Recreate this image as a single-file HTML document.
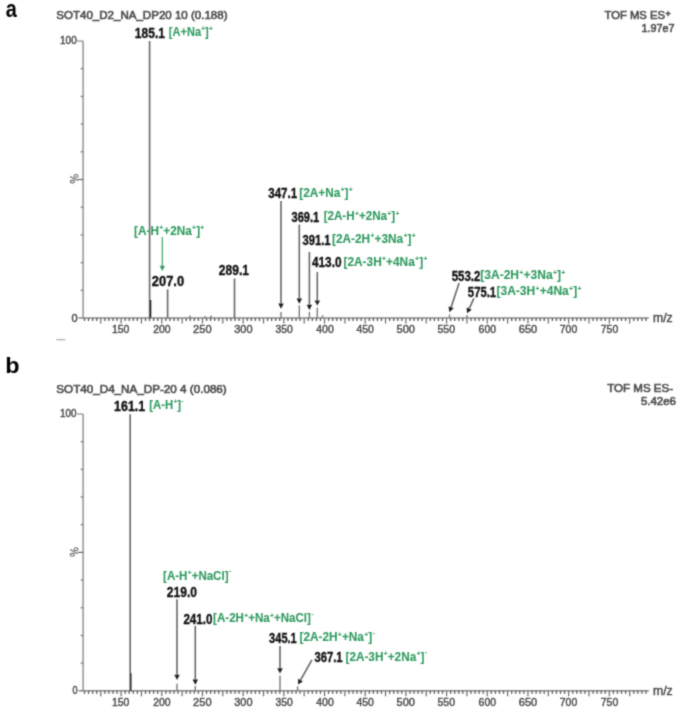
<!DOCTYPE html>
<html><head><meta charset="utf-8"><style>
html,body{margin:0;padding:0;background:#fff;width:685px;height:712px;overflow:hidden}
svg{display:block;-webkit-font-smoothing:antialiased;font-family:"Liberation Sans",sans-serif}
</style></head><body>
<svg width="685" height="712" viewBox="0 0 685 712">
<defs><filter id="bf" x="0" y="0" width="685" height="712" filterUnits="userSpaceOnUse"><feConvolveMatrix order="3" kernelMatrix="0.07 0.26 0.07 0.26 1 0.26 0.07 0.26 0.07" edgeMode="none"/></filter></defs>
<rect width="685" height="712" fill="#fff"/>
<g id="all" filter="url(#bf)">
<line x1="83.10" y1="41.00" x2="83.10" y2="318.00" stroke="#8a8a8a" stroke-width="1.40"/>
<line x1="77.10" y1="41.00" x2="83.10" y2="41.00" stroke="#777" stroke-width="1.00"/>
<line x1="78.60" y1="318.00" x2="83.10" y2="318.00" stroke="#666" stroke-width="1.20"/>
<line x1="80.60" y1="290.30" x2="83.10" y2="290.30" stroke="#777" stroke-width="1.20"/>
<line x1="80.60" y1="262.60" x2="83.10" y2="262.60" stroke="#777" stroke-width="1.20"/>
<line x1="80.60" y1="234.90" x2="83.10" y2="234.90" stroke="#777" stroke-width="1.20"/>
<line x1="80.60" y1="207.20" x2="83.10" y2="207.20" stroke="#777" stroke-width="1.20"/>
<line x1="77.60" y1="179.50" x2="83.10" y2="179.50" stroke="#666" stroke-width="1.20"/>
<line x1="80.60" y1="151.80" x2="83.10" y2="151.80" stroke="#777" stroke-width="1.20"/>
<line x1="80.60" y1="124.10" x2="83.10" y2="124.10" stroke="#777" stroke-width="1.20"/>
<line x1="80.60" y1="96.40" x2="83.10" y2="96.40" stroke="#777" stroke-width="1.20"/>
<line x1="80.60" y1="68.70" x2="83.10" y2="68.70" stroke="#777" stroke-width="1.20"/>
<line x1="83.10" y1="318.00" x2="648.90" y2="318.00" stroke="#8a8a8a" stroke-width="1.40"/>
<line x1="84.48" y1="318.00" x2="84.48" y2="321.00" stroke="#5a5a5a" stroke-width="1.30"/>
<line x1="88.55" y1="318.00" x2="88.55" y2="321.00" stroke="#5a5a5a" stroke-width="1.30"/>
<line x1="92.62" y1="318.00" x2="92.62" y2="321.00" stroke="#5a5a5a" stroke-width="1.30"/>
<line x1="96.69" y1="318.00" x2="96.69" y2="321.00" stroke="#5a5a5a" stroke-width="1.30"/>
<line x1="100.76" y1="318.00" x2="100.76" y2="323.50" stroke="#6a6a6a" stroke-width="1.20"/>
<line x1="104.83" y1="318.00" x2="104.83" y2="321.00" stroke="#5a5a5a" stroke-width="1.30"/>
<line x1="108.89" y1="318.00" x2="108.89" y2="321.00" stroke="#5a5a5a" stroke-width="1.30"/>
<line x1="112.96" y1="318.00" x2="112.96" y2="321.00" stroke="#5a5a5a" stroke-width="1.30"/>
<line x1="117.03" y1="318.00" x2="117.03" y2="321.00" stroke="#5a5a5a" stroke-width="1.30"/>
<line x1="121.10" y1="318.00" x2="121.10" y2="323.50" stroke="#6a6a6a" stroke-width="1.20"/>
<line x1="125.17" y1="318.00" x2="125.17" y2="321.00" stroke="#5a5a5a" stroke-width="1.30"/>
<line x1="129.24" y1="318.00" x2="129.24" y2="321.00" stroke="#5a5a5a" stroke-width="1.30"/>
<line x1="133.31" y1="318.00" x2="133.31" y2="321.00" stroke="#5a5a5a" stroke-width="1.30"/>
<line x1="137.37" y1="318.00" x2="137.37" y2="321.00" stroke="#5a5a5a" stroke-width="1.30"/>
<line x1="141.44" y1="318.00" x2="141.44" y2="323.50" stroke="#6a6a6a" stroke-width="1.20"/>
<line x1="145.51" y1="318.00" x2="145.51" y2="321.00" stroke="#5a5a5a" stroke-width="1.30"/>
<line x1="149.58" y1="318.00" x2="149.58" y2="321.00" stroke="#5a5a5a" stroke-width="1.30"/>
<line x1="153.65" y1="318.00" x2="153.65" y2="321.00" stroke="#5a5a5a" stroke-width="1.30"/>
<line x1="157.72" y1="318.00" x2="157.72" y2="321.00" stroke="#5a5a5a" stroke-width="1.30"/>
<line x1="161.78" y1="318.00" x2="161.78" y2="323.50" stroke="#6a6a6a" stroke-width="1.20"/>
<line x1="165.85" y1="318.00" x2="165.85" y2="321.00" stroke="#5a5a5a" stroke-width="1.30"/>
<line x1="169.92" y1="318.00" x2="169.92" y2="321.00" stroke="#5a5a5a" stroke-width="1.30"/>
<line x1="173.99" y1="318.00" x2="173.99" y2="321.00" stroke="#5a5a5a" stroke-width="1.30"/>
<line x1="178.06" y1="318.00" x2="178.06" y2="321.00" stroke="#5a5a5a" stroke-width="1.30"/>
<line x1="182.13" y1="318.00" x2="182.13" y2="323.50" stroke="#6a6a6a" stroke-width="1.20"/>
<line x1="186.20" y1="318.00" x2="186.20" y2="321.00" stroke="#5a5a5a" stroke-width="1.30"/>
<line x1="190.26" y1="318.00" x2="190.26" y2="321.00" stroke="#5a5a5a" stroke-width="1.30"/>
<line x1="194.33" y1="318.00" x2="194.33" y2="321.00" stroke="#5a5a5a" stroke-width="1.30"/>
<line x1="198.40" y1="318.00" x2="198.40" y2="321.00" stroke="#5a5a5a" stroke-width="1.30"/>
<line x1="202.47" y1="318.00" x2="202.47" y2="323.50" stroke="#6a6a6a" stroke-width="1.20"/>
<line x1="206.54" y1="318.00" x2="206.54" y2="321.00" stroke="#5a5a5a" stroke-width="1.30"/>
<line x1="210.61" y1="318.00" x2="210.61" y2="321.00" stroke="#5a5a5a" stroke-width="1.30"/>
<line x1="214.68" y1="318.00" x2="214.68" y2="321.00" stroke="#5a5a5a" stroke-width="1.30"/>
<line x1="218.74" y1="318.00" x2="218.74" y2="321.00" stroke="#5a5a5a" stroke-width="1.30"/>
<line x1="222.81" y1="318.00" x2="222.81" y2="323.50" stroke="#6a6a6a" stroke-width="1.20"/>
<line x1="226.88" y1="318.00" x2="226.88" y2="321.00" stroke="#5a5a5a" stroke-width="1.30"/>
<line x1="230.95" y1="318.00" x2="230.95" y2="321.00" stroke="#5a5a5a" stroke-width="1.30"/>
<line x1="235.02" y1="318.00" x2="235.02" y2="321.00" stroke="#5a5a5a" stroke-width="1.30"/>
<line x1="239.09" y1="318.00" x2="239.09" y2="321.00" stroke="#5a5a5a" stroke-width="1.30"/>
<line x1="243.15" y1="318.00" x2="243.15" y2="323.50" stroke="#6a6a6a" stroke-width="1.20"/>
<line x1="247.22" y1="318.00" x2="247.22" y2="321.00" stroke="#5a5a5a" stroke-width="1.30"/>
<line x1="251.29" y1="318.00" x2="251.29" y2="321.00" stroke="#5a5a5a" stroke-width="1.30"/>
<line x1="255.36" y1="318.00" x2="255.36" y2="321.00" stroke="#5a5a5a" stroke-width="1.30"/>
<line x1="259.43" y1="318.00" x2="259.43" y2="321.00" stroke="#5a5a5a" stroke-width="1.30"/>
<line x1="263.50" y1="318.00" x2="263.50" y2="323.50" stroke="#6a6a6a" stroke-width="1.20"/>
<line x1="267.57" y1="318.00" x2="267.57" y2="321.00" stroke="#5a5a5a" stroke-width="1.30"/>
<line x1="271.63" y1="318.00" x2="271.63" y2="321.00" stroke="#5a5a5a" stroke-width="1.30"/>
<line x1="275.70" y1="318.00" x2="275.70" y2="321.00" stroke="#5a5a5a" stroke-width="1.30"/>
<line x1="279.77" y1="318.00" x2="279.77" y2="321.00" stroke="#5a5a5a" stroke-width="1.30"/>
<line x1="283.84" y1="318.00" x2="283.84" y2="323.50" stroke="#6a6a6a" stroke-width="1.20"/>
<line x1="287.91" y1="318.00" x2="287.91" y2="321.00" stroke="#5a5a5a" stroke-width="1.30"/>
<line x1="291.98" y1="318.00" x2="291.98" y2="321.00" stroke="#5a5a5a" stroke-width="1.30"/>
<line x1="296.05" y1="318.00" x2="296.05" y2="321.00" stroke="#5a5a5a" stroke-width="1.30"/>
<line x1="300.11" y1="318.00" x2="300.11" y2="321.00" stroke="#5a5a5a" stroke-width="1.30"/>
<line x1="304.18" y1="318.00" x2="304.18" y2="323.50" stroke="#6a6a6a" stroke-width="1.20"/>
<line x1="308.25" y1="318.00" x2="308.25" y2="321.00" stroke="#5a5a5a" stroke-width="1.30"/>
<line x1="312.32" y1="318.00" x2="312.32" y2="321.00" stroke="#5a5a5a" stroke-width="1.30"/>
<line x1="316.39" y1="318.00" x2="316.39" y2="321.00" stroke="#5a5a5a" stroke-width="1.30"/>
<line x1="320.46" y1="318.00" x2="320.46" y2="321.00" stroke="#5a5a5a" stroke-width="1.30"/>
<line x1="324.52" y1="318.00" x2="324.52" y2="323.50" stroke="#6a6a6a" stroke-width="1.20"/>
<line x1="328.59" y1="318.00" x2="328.59" y2="321.00" stroke="#5a5a5a" stroke-width="1.30"/>
<line x1="332.66" y1="318.00" x2="332.66" y2="321.00" stroke="#5a5a5a" stroke-width="1.30"/>
<line x1="336.73" y1="318.00" x2="336.73" y2="321.00" stroke="#5a5a5a" stroke-width="1.30"/>
<line x1="340.80" y1="318.00" x2="340.80" y2="321.00" stroke="#5a5a5a" stroke-width="1.30"/>
<line x1="344.87" y1="318.00" x2="344.87" y2="323.50" stroke="#6a6a6a" stroke-width="1.20"/>
<line x1="348.94" y1="318.00" x2="348.94" y2="321.00" stroke="#5a5a5a" stroke-width="1.30"/>
<line x1="353.00" y1="318.00" x2="353.00" y2="321.00" stroke="#5a5a5a" stroke-width="1.30"/>
<line x1="357.07" y1="318.00" x2="357.07" y2="321.00" stroke="#5a5a5a" stroke-width="1.30"/>
<line x1="361.14" y1="318.00" x2="361.14" y2="321.00" stroke="#5a5a5a" stroke-width="1.30"/>
<line x1="365.21" y1="318.00" x2="365.21" y2="323.50" stroke="#6a6a6a" stroke-width="1.20"/>
<line x1="369.28" y1="318.00" x2="369.28" y2="321.00" stroke="#5a5a5a" stroke-width="1.30"/>
<line x1="373.35" y1="318.00" x2="373.35" y2="321.00" stroke="#5a5a5a" stroke-width="1.30"/>
<line x1="377.42" y1="318.00" x2="377.42" y2="321.00" stroke="#5a5a5a" stroke-width="1.30"/>
<line x1="381.48" y1="318.00" x2="381.48" y2="321.00" stroke="#5a5a5a" stroke-width="1.30"/>
<line x1="385.55" y1="318.00" x2="385.55" y2="323.50" stroke="#6a6a6a" stroke-width="1.20"/>
<line x1="389.62" y1="318.00" x2="389.62" y2="321.00" stroke="#5a5a5a" stroke-width="1.30"/>
<line x1="393.69" y1="318.00" x2="393.69" y2="321.00" stroke="#5a5a5a" stroke-width="1.30"/>
<line x1="397.76" y1="318.00" x2="397.76" y2="321.00" stroke="#5a5a5a" stroke-width="1.30"/>
<line x1="401.83" y1="318.00" x2="401.83" y2="321.00" stroke="#5a5a5a" stroke-width="1.30"/>
<line x1="405.89" y1="318.00" x2="405.89" y2="323.50" stroke="#6a6a6a" stroke-width="1.20"/>
<line x1="409.96" y1="318.00" x2="409.96" y2="321.00" stroke="#5a5a5a" stroke-width="1.30"/>
<line x1="414.03" y1="318.00" x2="414.03" y2="321.00" stroke="#5a5a5a" stroke-width="1.30"/>
<line x1="418.10" y1="318.00" x2="418.10" y2="321.00" stroke="#5a5a5a" stroke-width="1.30"/>
<line x1="422.17" y1="318.00" x2="422.17" y2="321.00" stroke="#5a5a5a" stroke-width="1.30"/>
<line x1="426.24" y1="318.00" x2="426.24" y2="323.50" stroke="#6a6a6a" stroke-width="1.20"/>
<line x1="430.31" y1="318.00" x2="430.31" y2="321.00" stroke="#5a5a5a" stroke-width="1.30"/>
<line x1="434.37" y1="318.00" x2="434.37" y2="321.00" stroke="#5a5a5a" stroke-width="1.30"/>
<line x1="438.44" y1="318.00" x2="438.44" y2="321.00" stroke="#5a5a5a" stroke-width="1.30"/>
<line x1="442.51" y1="318.00" x2="442.51" y2="321.00" stroke="#5a5a5a" stroke-width="1.30"/>
<line x1="446.58" y1="318.00" x2="446.58" y2="323.50" stroke="#6a6a6a" stroke-width="1.20"/>
<line x1="450.65" y1="318.00" x2="450.65" y2="321.00" stroke="#5a5a5a" stroke-width="1.30"/>
<line x1="454.72" y1="318.00" x2="454.72" y2="321.00" stroke="#5a5a5a" stroke-width="1.30"/>
<line x1="458.79" y1="318.00" x2="458.79" y2="321.00" stroke="#5a5a5a" stroke-width="1.30"/>
<line x1="462.85" y1="318.00" x2="462.85" y2="321.00" stroke="#5a5a5a" stroke-width="1.30"/>
<line x1="466.92" y1="318.00" x2="466.92" y2="323.50" stroke="#6a6a6a" stroke-width="1.20"/>
<line x1="470.99" y1="318.00" x2="470.99" y2="321.00" stroke="#5a5a5a" stroke-width="1.30"/>
<line x1="475.06" y1="318.00" x2="475.06" y2="321.00" stroke="#5a5a5a" stroke-width="1.30"/>
<line x1="479.13" y1="318.00" x2="479.13" y2="321.00" stroke="#5a5a5a" stroke-width="1.30"/>
<line x1="483.20" y1="318.00" x2="483.20" y2="321.00" stroke="#5a5a5a" stroke-width="1.30"/>
<line x1="487.26" y1="318.00" x2="487.26" y2="323.50" stroke="#6a6a6a" stroke-width="1.20"/>
<line x1="491.33" y1="318.00" x2="491.33" y2="321.00" stroke="#5a5a5a" stroke-width="1.30"/>
<line x1="495.40" y1="318.00" x2="495.40" y2="321.00" stroke="#5a5a5a" stroke-width="1.30"/>
<line x1="499.47" y1="318.00" x2="499.47" y2="321.00" stroke="#5a5a5a" stroke-width="1.30"/>
<line x1="503.54" y1="318.00" x2="503.54" y2="321.00" stroke="#5a5a5a" stroke-width="1.30"/>
<line x1="507.61" y1="318.00" x2="507.61" y2="323.50" stroke="#6a6a6a" stroke-width="1.20"/>
<line x1="511.68" y1="318.00" x2="511.68" y2="321.00" stroke="#5a5a5a" stroke-width="1.30"/>
<line x1="515.74" y1="318.00" x2="515.74" y2="321.00" stroke="#5a5a5a" stroke-width="1.30"/>
<line x1="519.81" y1="318.00" x2="519.81" y2="321.00" stroke="#5a5a5a" stroke-width="1.30"/>
<line x1="523.88" y1="318.00" x2="523.88" y2="321.00" stroke="#5a5a5a" stroke-width="1.30"/>
<line x1="527.95" y1="318.00" x2="527.95" y2="323.50" stroke="#6a6a6a" stroke-width="1.20"/>
<line x1="532.02" y1="318.00" x2="532.02" y2="321.00" stroke="#5a5a5a" stroke-width="1.30"/>
<line x1="536.09" y1="318.00" x2="536.09" y2="321.00" stroke="#5a5a5a" stroke-width="1.30"/>
<line x1="540.16" y1="318.00" x2="540.16" y2="321.00" stroke="#5a5a5a" stroke-width="1.30"/>
<line x1="544.22" y1="318.00" x2="544.22" y2="321.00" stroke="#5a5a5a" stroke-width="1.30"/>
<line x1="548.29" y1="318.00" x2="548.29" y2="323.50" stroke="#6a6a6a" stroke-width="1.20"/>
<line x1="552.36" y1="318.00" x2="552.36" y2="321.00" stroke="#5a5a5a" stroke-width="1.30"/>
<line x1="556.43" y1="318.00" x2="556.43" y2="321.00" stroke="#5a5a5a" stroke-width="1.30"/>
<line x1="560.50" y1="318.00" x2="560.50" y2="321.00" stroke="#5a5a5a" stroke-width="1.30"/>
<line x1="564.57" y1="318.00" x2="564.57" y2="321.00" stroke="#5a5a5a" stroke-width="1.30"/>
<line x1="568.63" y1="318.00" x2="568.63" y2="323.50" stroke="#6a6a6a" stroke-width="1.20"/>
<line x1="572.70" y1="318.00" x2="572.70" y2="321.00" stroke="#5a5a5a" stroke-width="1.30"/>
<line x1="576.77" y1="318.00" x2="576.77" y2="321.00" stroke="#5a5a5a" stroke-width="1.30"/>
<line x1="580.84" y1="318.00" x2="580.84" y2="321.00" stroke="#5a5a5a" stroke-width="1.30"/>
<line x1="584.91" y1="318.00" x2="584.91" y2="321.00" stroke="#5a5a5a" stroke-width="1.30"/>
<line x1="588.98" y1="318.00" x2="588.98" y2="323.50" stroke="#6a6a6a" stroke-width="1.20"/>
<line x1="593.05" y1="318.00" x2="593.05" y2="321.00" stroke="#5a5a5a" stroke-width="1.30"/>
<line x1="597.11" y1="318.00" x2="597.11" y2="321.00" stroke="#5a5a5a" stroke-width="1.30"/>
<line x1="601.18" y1="318.00" x2="601.18" y2="321.00" stroke="#5a5a5a" stroke-width="1.30"/>
<line x1="605.25" y1="318.00" x2="605.25" y2="321.00" stroke="#5a5a5a" stroke-width="1.30"/>
<line x1="609.32" y1="318.00" x2="609.32" y2="323.50" stroke="#6a6a6a" stroke-width="1.20"/>
<line x1="613.39" y1="318.00" x2="613.39" y2="321.00" stroke="#5a5a5a" stroke-width="1.30"/>
<line x1="617.46" y1="318.00" x2="617.46" y2="321.00" stroke="#5a5a5a" stroke-width="1.30"/>
<line x1="621.53" y1="318.00" x2="621.53" y2="321.00" stroke="#5a5a5a" stroke-width="1.30"/>
<line x1="625.59" y1="318.00" x2="625.59" y2="321.00" stroke="#5a5a5a" stroke-width="1.30"/>
<line x1="629.66" y1="318.00" x2="629.66" y2="323.50" stroke="#6a6a6a" stroke-width="1.20"/>
<line x1="633.73" y1="318.00" x2="633.73" y2="321.00" stroke="#5a5a5a" stroke-width="1.30"/>
<line x1="637.80" y1="318.00" x2="637.80" y2="321.00" stroke="#5a5a5a" stroke-width="1.30"/>
<line x1="641.87" y1="318.00" x2="641.87" y2="321.00" stroke="#5a5a5a" stroke-width="1.30"/>
<line x1="645.94" y1="318.00" x2="645.94" y2="321.00" stroke="#5a5a5a" stroke-width="1.30"/>
<line x1="56.20" y1="339.70" x2="65.40" y2="339.70" stroke="#aaa" stroke-width="1.20"/>
<line x1="83.10" y1="414.00" x2="83.10" y2="690.80" stroke="#8a8a8a" stroke-width="1.40"/>
<line x1="77.10" y1="414.00" x2="83.10" y2="414.00" stroke="#777" stroke-width="1.00"/>
<line x1="78.60" y1="690.80" x2="83.10" y2="690.80" stroke="#666" stroke-width="1.20"/>
<line x1="80.60" y1="663.12" x2="83.10" y2="663.12" stroke="#777" stroke-width="1.20"/>
<line x1="80.60" y1="635.44" x2="83.10" y2="635.44" stroke="#777" stroke-width="1.20"/>
<line x1="80.60" y1="607.76" x2="83.10" y2="607.76" stroke="#777" stroke-width="1.20"/>
<line x1="80.60" y1="580.08" x2="83.10" y2="580.08" stroke="#777" stroke-width="1.20"/>
<line x1="77.60" y1="552.40" x2="83.10" y2="552.40" stroke="#666" stroke-width="1.20"/>
<line x1="80.60" y1="524.72" x2="83.10" y2="524.72" stroke="#777" stroke-width="1.20"/>
<line x1="80.60" y1="497.04" x2="83.10" y2="497.04" stroke="#777" stroke-width="1.20"/>
<line x1="80.60" y1="469.36" x2="83.10" y2="469.36" stroke="#777" stroke-width="1.20"/>
<line x1="80.60" y1="441.68" x2="83.10" y2="441.68" stroke="#777" stroke-width="1.20"/>
<line x1="83.10" y1="690.80" x2="648.90" y2="690.80" stroke="#8a8a8a" stroke-width="1.40"/>
<line x1="84.48" y1="690.80" x2="84.48" y2="693.80" stroke="#5a5a5a" stroke-width="1.30"/>
<line x1="88.55" y1="690.80" x2="88.55" y2="693.80" stroke="#5a5a5a" stroke-width="1.30"/>
<line x1="92.62" y1="690.80" x2="92.62" y2="693.80" stroke="#5a5a5a" stroke-width="1.30"/>
<line x1="96.69" y1="690.80" x2="96.69" y2="693.80" stroke="#5a5a5a" stroke-width="1.30"/>
<line x1="100.76" y1="690.80" x2="100.76" y2="696.30" stroke="#6a6a6a" stroke-width="1.20"/>
<line x1="104.83" y1="690.80" x2="104.83" y2="693.80" stroke="#5a5a5a" stroke-width="1.30"/>
<line x1="108.89" y1="690.80" x2="108.89" y2="693.80" stroke="#5a5a5a" stroke-width="1.30"/>
<line x1="112.96" y1="690.80" x2="112.96" y2="693.80" stroke="#5a5a5a" stroke-width="1.30"/>
<line x1="117.03" y1="690.80" x2="117.03" y2="693.80" stroke="#5a5a5a" stroke-width="1.30"/>
<line x1="121.10" y1="690.80" x2="121.10" y2="696.30" stroke="#6a6a6a" stroke-width="1.20"/>
<line x1="125.17" y1="690.80" x2="125.17" y2="693.80" stroke="#5a5a5a" stroke-width="1.30"/>
<line x1="129.24" y1="690.80" x2="129.24" y2="693.80" stroke="#5a5a5a" stroke-width="1.30"/>
<line x1="133.31" y1="690.80" x2="133.31" y2="693.80" stroke="#5a5a5a" stroke-width="1.30"/>
<line x1="137.37" y1="690.80" x2="137.37" y2="693.80" stroke="#5a5a5a" stroke-width="1.30"/>
<line x1="141.44" y1="690.80" x2="141.44" y2="696.30" stroke="#6a6a6a" stroke-width="1.20"/>
<line x1="145.51" y1="690.80" x2="145.51" y2="693.80" stroke="#5a5a5a" stroke-width="1.30"/>
<line x1="149.58" y1="690.80" x2="149.58" y2="693.80" stroke="#5a5a5a" stroke-width="1.30"/>
<line x1="153.65" y1="690.80" x2="153.65" y2="693.80" stroke="#5a5a5a" stroke-width="1.30"/>
<line x1="157.72" y1="690.80" x2="157.72" y2="693.80" stroke="#5a5a5a" stroke-width="1.30"/>
<line x1="161.78" y1="690.80" x2="161.78" y2="696.30" stroke="#6a6a6a" stroke-width="1.20"/>
<line x1="165.85" y1="690.80" x2="165.85" y2="693.80" stroke="#5a5a5a" stroke-width="1.30"/>
<line x1="169.92" y1="690.80" x2="169.92" y2="693.80" stroke="#5a5a5a" stroke-width="1.30"/>
<line x1="173.99" y1="690.80" x2="173.99" y2="693.80" stroke="#5a5a5a" stroke-width="1.30"/>
<line x1="178.06" y1="690.80" x2="178.06" y2="693.80" stroke="#5a5a5a" stroke-width="1.30"/>
<line x1="182.13" y1="690.80" x2="182.13" y2="696.30" stroke="#6a6a6a" stroke-width="1.20"/>
<line x1="186.20" y1="690.80" x2="186.20" y2="693.80" stroke="#5a5a5a" stroke-width="1.30"/>
<line x1="190.26" y1="690.80" x2="190.26" y2="693.80" stroke="#5a5a5a" stroke-width="1.30"/>
<line x1="194.33" y1="690.80" x2="194.33" y2="693.80" stroke="#5a5a5a" stroke-width="1.30"/>
<line x1="198.40" y1="690.80" x2="198.40" y2="693.80" stroke="#5a5a5a" stroke-width="1.30"/>
<line x1="202.47" y1="690.80" x2="202.47" y2="696.30" stroke="#6a6a6a" stroke-width="1.20"/>
<line x1="206.54" y1="690.80" x2="206.54" y2="693.80" stroke="#5a5a5a" stroke-width="1.30"/>
<line x1="210.61" y1="690.80" x2="210.61" y2="693.80" stroke="#5a5a5a" stroke-width="1.30"/>
<line x1="214.68" y1="690.80" x2="214.68" y2="693.80" stroke="#5a5a5a" stroke-width="1.30"/>
<line x1="218.74" y1="690.80" x2="218.74" y2="693.80" stroke="#5a5a5a" stroke-width="1.30"/>
<line x1="222.81" y1="690.80" x2="222.81" y2="696.30" stroke="#6a6a6a" stroke-width="1.20"/>
<line x1="226.88" y1="690.80" x2="226.88" y2="693.80" stroke="#5a5a5a" stroke-width="1.30"/>
<line x1="230.95" y1="690.80" x2="230.95" y2="693.80" stroke="#5a5a5a" stroke-width="1.30"/>
<line x1="235.02" y1="690.80" x2="235.02" y2="693.80" stroke="#5a5a5a" stroke-width="1.30"/>
<line x1="239.09" y1="690.80" x2="239.09" y2="693.80" stroke="#5a5a5a" stroke-width="1.30"/>
<line x1="243.15" y1="690.80" x2="243.15" y2="696.30" stroke="#6a6a6a" stroke-width="1.20"/>
<line x1="247.22" y1="690.80" x2="247.22" y2="693.80" stroke="#5a5a5a" stroke-width="1.30"/>
<line x1="251.29" y1="690.80" x2="251.29" y2="693.80" stroke="#5a5a5a" stroke-width="1.30"/>
<line x1="255.36" y1="690.80" x2="255.36" y2="693.80" stroke="#5a5a5a" stroke-width="1.30"/>
<line x1="259.43" y1="690.80" x2="259.43" y2="693.80" stroke="#5a5a5a" stroke-width="1.30"/>
<line x1="263.50" y1="690.80" x2="263.50" y2="696.30" stroke="#6a6a6a" stroke-width="1.20"/>
<line x1="267.57" y1="690.80" x2="267.57" y2="693.80" stroke="#5a5a5a" stroke-width="1.30"/>
<line x1="271.63" y1="690.80" x2="271.63" y2="693.80" stroke="#5a5a5a" stroke-width="1.30"/>
<line x1="275.70" y1="690.80" x2="275.70" y2="693.80" stroke="#5a5a5a" stroke-width="1.30"/>
<line x1="279.77" y1="690.80" x2="279.77" y2="693.80" stroke="#5a5a5a" stroke-width="1.30"/>
<line x1="283.84" y1="690.80" x2="283.84" y2="696.30" stroke="#6a6a6a" stroke-width="1.20"/>
<line x1="287.91" y1="690.80" x2="287.91" y2="693.80" stroke="#5a5a5a" stroke-width="1.30"/>
<line x1="291.98" y1="690.80" x2="291.98" y2="693.80" stroke="#5a5a5a" stroke-width="1.30"/>
<line x1="296.05" y1="690.80" x2="296.05" y2="693.80" stroke="#5a5a5a" stroke-width="1.30"/>
<line x1="300.11" y1="690.80" x2="300.11" y2="693.80" stroke="#5a5a5a" stroke-width="1.30"/>
<line x1="304.18" y1="690.80" x2="304.18" y2="696.30" stroke="#6a6a6a" stroke-width="1.20"/>
<line x1="308.25" y1="690.80" x2="308.25" y2="693.80" stroke="#5a5a5a" stroke-width="1.30"/>
<line x1="312.32" y1="690.80" x2="312.32" y2="693.80" stroke="#5a5a5a" stroke-width="1.30"/>
<line x1="316.39" y1="690.80" x2="316.39" y2="693.80" stroke="#5a5a5a" stroke-width="1.30"/>
<line x1="320.46" y1="690.80" x2="320.46" y2="693.80" stroke="#5a5a5a" stroke-width="1.30"/>
<line x1="324.52" y1="690.80" x2="324.52" y2="696.30" stroke="#6a6a6a" stroke-width="1.20"/>
<line x1="328.59" y1="690.80" x2="328.59" y2="693.80" stroke="#5a5a5a" stroke-width="1.30"/>
<line x1="332.66" y1="690.80" x2="332.66" y2="693.80" stroke="#5a5a5a" stroke-width="1.30"/>
<line x1="336.73" y1="690.80" x2="336.73" y2="693.80" stroke="#5a5a5a" stroke-width="1.30"/>
<line x1="340.80" y1="690.80" x2="340.80" y2="693.80" stroke="#5a5a5a" stroke-width="1.30"/>
<line x1="344.87" y1="690.80" x2="344.87" y2="696.30" stroke="#6a6a6a" stroke-width="1.20"/>
<line x1="348.94" y1="690.80" x2="348.94" y2="693.80" stroke="#5a5a5a" stroke-width="1.30"/>
<line x1="353.00" y1="690.80" x2="353.00" y2="693.80" stroke="#5a5a5a" stroke-width="1.30"/>
<line x1="357.07" y1="690.80" x2="357.07" y2="693.80" stroke="#5a5a5a" stroke-width="1.30"/>
<line x1="361.14" y1="690.80" x2="361.14" y2="693.80" stroke="#5a5a5a" stroke-width="1.30"/>
<line x1="365.21" y1="690.80" x2="365.21" y2="696.30" stroke="#6a6a6a" stroke-width="1.20"/>
<line x1="369.28" y1="690.80" x2="369.28" y2="693.80" stroke="#5a5a5a" stroke-width="1.30"/>
<line x1="373.35" y1="690.80" x2="373.35" y2="693.80" stroke="#5a5a5a" stroke-width="1.30"/>
<line x1="377.42" y1="690.80" x2="377.42" y2="693.80" stroke="#5a5a5a" stroke-width="1.30"/>
<line x1="381.48" y1="690.80" x2="381.48" y2="693.80" stroke="#5a5a5a" stroke-width="1.30"/>
<line x1="385.55" y1="690.80" x2="385.55" y2="696.30" stroke="#6a6a6a" stroke-width="1.20"/>
<line x1="389.62" y1="690.80" x2="389.62" y2="693.80" stroke="#5a5a5a" stroke-width="1.30"/>
<line x1="393.69" y1="690.80" x2="393.69" y2="693.80" stroke="#5a5a5a" stroke-width="1.30"/>
<line x1="397.76" y1="690.80" x2="397.76" y2="693.80" stroke="#5a5a5a" stroke-width="1.30"/>
<line x1="401.83" y1="690.80" x2="401.83" y2="693.80" stroke="#5a5a5a" stroke-width="1.30"/>
<line x1="405.89" y1="690.80" x2="405.89" y2="696.30" stroke="#6a6a6a" stroke-width="1.20"/>
<line x1="409.96" y1="690.80" x2="409.96" y2="693.80" stroke="#5a5a5a" stroke-width="1.30"/>
<line x1="414.03" y1="690.80" x2="414.03" y2="693.80" stroke="#5a5a5a" stroke-width="1.30"/>
<line x1="418.10" y1="690.80" x2="418.10" y2="693.80" stroke="#5a5a5a" stroke-width="1.30"/>
<line x1="422.17" y1="690.80" x2="422.17" y2="693.80" stroke="#5a5a5a" stroke-width="1.30"/>
<line x1="426.24" y1="690.80" x2="426.24" y2="696.30" stroke="#6a6a6a" stroke-width="1.20"/>
<line x1="430.31" y1="690.80" x2="430.31" y2="693.80" stroke="#5a5a5a" stroke-width="1.30"/>
<line x1="434.37" y1="690.80" x2="434.37" y2="693.80" stroke="#5a5a5a" stroke-width="1.30"/>
<line x1="438.44" y1="690.80" x2="438.44" y2="693.80" stroke="#5a5a5a" stroke-width="1.30"/>
<line x1="442.51" y1="690.80" x2="442.51" y2="693.80" stroke="#5a5a5a" stroke-width="1.30"/>
<line x1="446.58" y1="690.80" x2="446.58" y2="696.30" stroke="#6a6a6a" stroke-width="1.20"/>
<line x1="450.65" y1="690.80" x2="450.65" y2="693.80" stroke="#5a5a5a" stroke-width="1.30"/>
<line x1="454.72" y1="690.80" x2="454.72" y2="693.80" stroke="#5a5a5a" stroke-width="1.30"/>
<line x1="458.79" y1="690.80" x2="458.79" y2="693.80" stroke="#5a5a5a" stroke-width="1.30"/>
<line x1="462.85" y1="690.80" x2="462.85" y2="693.80" stroke="#5a5a5a" stroke-width="1.30"/>
<line x1="466.92" y1="690.80" x2="466.92" y2="696.30" stroke="#6a6a6a" stroke-width="1.20"/>
<line x1="470.99" y1="690.80" x2="470.99" y2="693.80" stroke="#5a5a5a" stroke-width="1.30"/>
<line x1="475.06" y1="690.80" x2="475.06" y2="693.80" stroke="#5a5a5a" stroke-width="1.30"/>
<line x1="479.13" y1="690.80" x2="479.13" y2="693.80" stroke="#5a5a5a" stroke-width="1.30"/>
<line x1="483.20" y1="690.80" x2="483.20" y2="693.80" stroke="#5a5a5a" stroke-width="1.30"/>
<line x1="487.26" y1="690.80" x2="487.26" y2="696.30" stroke="#6a6a6a" stroke-width="1.20"/>
<line x1="491.33" y1="690.80" x2="491.33" y2="693.80" stroke="#5a5a5a" stroke-width="1.30"/>
<line x1="495.40" y1="690.80" x2="495.40" y2="693.80" stroke="#5a5a5a" stroke-width="1.30"/>
<line x1="499.47" y1="690.80" x2="499.47" y2="693.80" stroke="#5a5a5a" stroke-width="1.30"/>
<line x1="503.54" y1="690.80" x2="503.54" y2="693.80" stroke="#5a5a5a" stroke-width="1.30"/>
<line x1="507.61" y1="690.80" x2="507.61" y2="696.30" stroke="#6a6a6a" stroke-width="1.20"/>
<line x1="511.68" y1="690.80" x2="511.68" y2="693.80" stroke="#5a5a5a" stroke-width="1.30"/>
<line x1="515.74" y1="690.80" x2="515.74" y2="693.80" stroke="#5a5a5a" stroke-width="1.30"/>
<line x1="519.81" y1="690.80" x2="519.81" y2="693.80" stroke="#5a5a5a" stroke-width="1.30"/>
<line x1="523.88" y1="690.80" x2="523.88" y2="693.80" stroke="#5a5a5a" stroke-width="1.30"/>
<line x1="527.95" y1="690.80" x2="527.95" y2="696.30" stroke="#6a6a6a" stroke-width="1.20"/>
<line x1="532.02" y1="690.80" x2="532.02" y2="693.80" stroke="#5a5a5a" stroke-width="1.30"/>
<line x1="536.09" y1="690.80" x2="536.09" y2="693.80" stroke="#5a5a5a" stroke-width="1.30"/>
<line x1="540.16" y1="690.80" x2="540.16" y2="693.80" stroke="#5a5a5a" stroke-width="1.30"/>
<line x1="544.22" y1="690.80" x2="544.22" y2="693.80" stroke="#5a5a5a" stroke-width="1.30"/>
<line x1="548.29" y1="690.80" x2="548.29" y2="696.30" stroke="#6a6a6a" stroke-width="1.20"/>
<line x1="552.36" y1="690.80" x2="552.36" y2="693.80" stroke="#5a5a5a" stroke-width="1.30"/>
<line x1="556.43" y1="690.80" x2="556.43" y2="693.80" stroke="#5a5a5a" stroke-width="1.30"/>
<line x1="560.50" y1="690.80" x2="560.50" y2="693.80" stroke="#5a5a5a" stroke-width="1.30"/>
<line x1="564.57" y1="690.80" x2="564.57" y2="693.80" stroke="#5a5a5a" stroke-width="1.30"/>
<line x1="568.63" y1="690.80" x2="568.63" y2="696.30" stroke="#6a6a6a" stroke-width="1.20"/>
<line x1="572.70" y1="690.80" x2="572.70" y2="693.80" stroke="#5a5a5a" stroke-width="1.30"/>
<line x1="576.77" y1="690.80" x2="576.77" y2="693.80" stroke="#5a5a5a" stroke-width="1.30"/>
<line x1="580.84" y1="690.80" x2="580.84" y2="693.80" stroke="#5a5a5a" stroke-width="1.30"/>
<line x1="584.91" y1="690.80" x2="584.91" y2="693.80" stroke="#5a5a5a" stroke-width="1.30"/>
<line x1="588.98" y1="690.80" x2="588.98" y2="696.30" stroke="#6a6a6a" stroke-width="1.20"/>
<line x1="593.05" y1="690.80" x2="593.05" y2="693.80" stroke="#5a5a5a" stroke-width="1.30"/>
<line x1="597.11" y1="690.80" x2="597.11" y2="693.80" stroke="#5a5a5a" stroke-width="1.30"/>
<line x1="601.18" y1="690.80" x2="601.18" y2="693.80" stroke="#5a5a5a" stroke-width="1.30"/>
<line x1="605.25" y1="690.80" x2="605.25" y2="693.80" stroke="#5a5a5a" stroke-width="1.30"/>
<line x1="609.32" y1="690.80" x2="609.32" y2="696.30" stroke="#6a6a6a" stroke-width="1.20"/>
<line x1="613.39" y1="690.80" x2="613.39" y2="693.80" stroke="#5a5a5a" stroke-width="1.30"/>
<line x1="617.46" y1="690.80" x2="617.46" y2="693.80" stroke="#5a5a5a" stroke-width="1.30"/>
<line x1="621.53" y1="690.80" x2="621.53" y2="693.80" stroke="#5a5a5a" stroke-width="1.30"/>
<line x1="625.59" y1="690.80" x2="625.59" y2="693.80" stroke="#5a5a5a" stroke-width="1.30"/>
<line x1="629.66" y1="690.80" x2="629.66" y2="696.30" stroke="#6a6a6a" stroke-width="1.20"/>
<line x1="633.73" y1="690.80" x2="633.73" y2="693.80" stroke="#5a5a5a" stroke-width="1.30"/>
<line x1="637.80" y1="690.80" x2="637.80" y2="693.80" stroke="#5a5a5a" stroke-width="1.30"/>
<line x1="641.87" y1="690.80" x2="641.87" y2="693.80" stroke="#5a5a5a" stroke-width="1.30"/>
<line x1="645.94" y1="690.80" x2="645.94" y2="693.80" stroke="#5a5a5a" stroke-width="1.30"/>
<line x1="149.60" y1="41.00" x2="149.60" y2="318.00" stroke="#666" stroke-width="1.60"/>
<line x1="150.60" y1="300.00" x2="150.60" y2="317.70" stroke="#111" stroke-width="1.30"/>
<line x1="167.60" y1="289.30" x2="167.60" y2="318.00" stroke="#666" stroke-width="1.60"/>
<line x1="234.50" y1="278.50" x2="234.50" y2="318.00" stroke="#666" stroke-width="1.60"/>
<line x1="281.00" y1="312.00" x2="281.00" y2="318.00" stroke="#7a7a7a" stroke-width="1.40"/>
<line x1="299.30" y1="305.60" x2="299.30" y2="318.00" stroke="#7a7a7a" stroke-width="1.40"/>
<line x1="309.40" y1="311.70" x2="309.40" y2="318.00" stroke="#7a7a7a" stroke-width="1.40"/>
<line x1="317.30" y1="307.80" x2="317.30" y2="318.00" stroke="#7a7a7a" stroke-width="1.40"/>
<line x1="322.50" y1="315.20" x2="322.50" y2="318.00" stroke="#7a7a7a" stroke-width="1.40"/>
<line x1="449.50" y1="314.50" x2="449.50" y2="318.00" stroke="#7a7a7a" stroke-width="1.40"/>
<line x1="467.00" y1="315.00" x2="467.00" y2="318.00" stroke="#7a7a7a" stroke-width="1.40"/>
<line x1="190.00" y1="315.50" x2="190.00" y2="318.00" stroke="#7a7a7a" stroke-width="1.40"/>
<line x1="205.00" y1="316.00" x2="205.00" y2="318.00" stroke="#7a7a7a" stroke-width="1.40"/>
<line x1="211.00" y1="315.50" x2="211.00" y2="318.00" stroke="#7a7a7a" stroke-width="1.40"/>
<line x1="281.00" y1="201.00" x2="281.00" y2="303.60" stroke="#666" stroke-width="1.60"/>
<polygon points="281.00,308.80 278.30,303.60 283.70,303.60" fill="#1a1a1a"/>
<line x1="299.30" y1="224.60" x2="299.30" y2="298.60" stroke="#666" stroke-width="1.60"/>
<polygon points="299.30,303.80 296.60,298.60 302.00,298.60" fill="#1a1a1a"/>
<line x1="309.40" y1="252.00" x2="309.40" y2="304.80" stroke="#666" stroke-width="1.60"/>
<polygon points="309.40,310.00 306.70,304.80 312.10,304.80" fill="#1a1a1a"/>
<line x1="317.30" y1="272.00" x2="317.30" y2="300.40" stroke="#666" stroke-width="1.60"/>
<polygon points="317.30,305.60 314.60,300.40 320.00,300.40" fill="#1a1a1a"/>
<line x1="459.10" y1="283.00" x2="451.12" y2="307.26" stroke="#666" stroke-width="1.60"/>
<polygon points="449.50,312.20 448.56,306.42 453.69,308.10" fill="#1a1a1a"/>
<line x1="473.90" y1="298.40" x2="469.19" y2="308.58" stroke="#666" stroke-width="1.60"/>
<polygon points="467.00,313.30 466.74,307.45 471.64,309.72" fill="#1a1a1a"/>
<line x1="162.30" y1="237.00" x2="162.30" y2="265.80" stroke="#2f9a5e" stroke-width="1.10"/>
<polygon points="162.30,271.00 159.60,265.80 165.00,265.80" fill="#2f9a5e"/>
<line x1="130.20" y1="414.30" x2="130.20" y2="690.80" stroke="#666" stroke-width="1.60"/>
<line x1="130.90" y1="673.30" x2="130.90" y2="690.80" stroke="#111" stroke-width="1.20"/>
<line x1="177.00" y1="683.80" x2="177.00" y2="690.80" stroke="#7a7a7a" stroke-width="1.40"/>
<line x1="195.30" y1="686.00" x2="195.30" y2="690.80" stroke="#7a7a7a" stroke-width="1.40"/>
<line x1="280.00" y1="675.60" x2="280.00" y2="690.80" stroke="#7a7a7a" stroke-width="1.40"/>
<line x1="297.60" y1="686.30" x2="297.60" y2="690.80" stroke="#7a7a7a" stroke-width="1.40"/>
<line x1="177.00" y1="599.30" x2="177.00" y2="674.70" stroke="#666" stroke-width="1.60"/>
<polygon points="177.00,679.90 174.30,674.70 179.70,674.70" fill="#1a1a1a"/>
<line x1="195.30" y1="625.80" x2="195.30" y2="679.60" stroke="#666" stroke-width="1.60"/>
<polygon points="195.30,684.80 192.60,679.60 198.00,679.60" fill="#1a1a1a"/>
<line x1="280.00" y1="646.00" x2="280.00" y2="668.20" stroke="#666" stroke-width="1.60"/>
<polygon points="280.00,673.40 277.30,668.20 282.70,668.20" fill="#1a1a1a"/>
<line x1="311.90" y1="659.90" x2="300.55" y2="680.07" stroke="#666" stroke-width="1.60"/>
<polygon points="298.00,684.60 298.20,678.74 302.90,681.39" fill="#1a1a1a"/>
<g id="pctA" fill="none" stroke="#6a6a6a" stroke-width="1.15"><ellipse cx="76.1" cy="176.00" rx="1.9" ry="1.5"/><ellipse cx="72.3" cy="181.60" rx="2.0" ry="1.45"/><line x1="70.2" y1="176.40" x2="77.6" y2="180.60"/></g>
<g id="pctB" fill="none" stroke="#6a6a6a" stroke-width="1.15"><ellipse cx="76.1" cy="549.20" rx="1.9" ry="1.5"/><ellipse cx="72.3" cy="554.80" rx="2.0" ry="1.45"/><line x1="70.2" y1="549.60" x2="77.6" y2="553.80"/></g>
<text id="la" x="5.73" y="16.50" font-size="23.0" font-weight="bold" fill="#000" textLength="11.10" lengthAdjust="spacingAndGlyphs">a</text>
<text id="hA" x="56.29" y="19.00" font-size="11.0" font-weight="normal" fill="#4d4d4d" stroke="#4d4d4d" stroke-width="0.60" textLength="171.24" lengthAdjust="spacingAndGlyphs">SOT40_D2_NA_DP20 10 (0.188)</text>
<text id="tA" x="604.47" y="18.80" font-size="11.0" font-weight="normal" fill="#4d4d4d" stroke="#4d4d4d" stroke-width="0.60" textLength="66.24" lengthAdjust="spacingAndGlyphs">TOF MS ES<tspan dx="0.6" dy="-2.20" font-size="8.6">+</tspan></text>
<text id="sA" x="641.50" y="31.50" font-size="11.0" font-weight="normal" fill="#4d4d4d" stroke="#4d4d4d" stroke-width="0.60" textLength="33.00" lengthAdjust="spacingAndGlyphs">1.97e7</text>
<text id="yA" x="60.07" y="44.00" font-size="10.0" font-weight="normal" fill="#4d4d4d" stroke="#4d4d4d" stroke-width="0.45" textLength="16.63" lengthAdjust="spacingAndGlyphs">100</text>
<text id="zA" x="71.64" y="321.60" font-size="10.0" font-weight="normal" fill="#4d4d4d" stroke="#4d4d4d" stroke-width="0.45" textLength="6.13" lengthAdjust="spacingAndGlyphs">0</text>
<text id="mzA" x="652.99" y="321.50" font-size="12.0" font-weight="normal" fill="#4d4d4d" stroke="#4d4d4d" stroke-width="0.45" textLength="19.67" lengthAdjust="spacingAndGlyphs">m/z</text>
<text id="xA150" x="111.99" y="333.00" font-size="11.0" font-weight="normal" fill="#4d4d4d" stroke="#4d4d4d" stroke-width="0.45" textLength="17.41" lengthAdjust="spacingAndGlyphs">150</text>
<text id="xA200" x="153.17" y="333.00" font-size="11.0" font-weight="normal" fill="#4d4d4d" stroke="#4d4d4d" stroke-width="0.45" textLength="17.38" lengthAdjust="spacingAndGlyphs">200</text>
<text id="xA250" x="193.11" y="333.00" font-size="11.0" font-weight="normal" fill="#4d4d4d" stroke="#4d4d4d" stroke-width="0.45" textLength="18.44" lengthAdjust="spacingAndGlyphs">250</text>
<text id="xA300" x="234.18" y="333.00" font-size="11.0" font-weight="normal" fill="#4d4d4d" stroke="#4d4d4d" stroke-width="0.45" textLength="18.32" lengthAdjust="spacingAndGlyphs">300</text>
<text id="xA350" x="275.39" y="333.00" font-size="11.0" font-weight="normal" fill="#4d4d4d" stroke="#4d4d4d" stroke-width="0.45" textLength="17.30" lengthAdjust="spacingAndGlyphs">350</text>
<text id="xA400" x="316.28" y="333.00" font-size="11.0" font-weight="normal" fill="#4d4d4d" stroke="#4d4d4d" stroke-width="0.45" textLength="17.48" lengthAdjust="spacingAndGlyphs">400</text>
<text id="xA450" x="356.43" y="333.00" font-size="11.0" font-weight="normal" fill="#4d4d4d" stroke="#4d4d4d" stroke-width="0.45" textLength="17.37" lengthAdjust="spacingAndGlyphs">450</text>
<text id="xA500" x="396.49" y="333.00" font-size="11.0" font-weight="normal" fill="#4d4d4d" stroke="#4d4d4d" stroke-width="0.45" textLength="18.45" lengthAdjust="spacingAndGlyphs">500</text>
<text id="xA550" x="437.54" y="333.00" font-size="11.0" font-weight="normal" fill="#4d4d4d" stroke="#4d4d4d" stroke-width="0.45" textLength="17.48" lengthAdjust="spacingAndGlyphs">550</text>
<text id="xA600" x="478.62" y="333.00" font-size="11.0" font-weight="normal" fill="#4d4d4d" stroke="#4d4d4d" stroke-width="0.45" textLength="17.37" lengthAdjust="spacingAndGlyphs">600</text>
<text id="xA650" x="518.77" y="333.00" font-size="11.0" font-weight="normal" fill="#4d4d4d" stroke="#4d4d4d" stroke-width="0.45" textLength="18.34" lengthAdjust="spacingAndGlyphs">650</text>
<text id="xA700" x="559.78" y="333.00" font-size="11.0" font-weight="normal" fill="#4d4d4d" stroke="#4d4d4d" stroke-width="0.45" textLength="17.46" lengthAdjust="spacingAndGlyphs">700</text>
<text id="xA750" x="600.81" y="333.00" font-size="11.0" font-weight="normal" fill="#4d4d4d" stroke="#4d4d4d" stroke-width="0.45" textLength="17.43" lengthAdjust="spacingAndGlyphs">750</text>
<text id="p185" x="134.86" y="37.60" font-size="14.0" font-weight="bold" fill="#111" stroke="#111" stroke-width="0.35" textLength="30.07" lengthAdjust="spacingAndGlyphs">185.1</text>
<text id="p207" x="151.82" y="285.60" font-size="14.0" font-weight="bold" fill="#111" stroke="#111" stroke-width="0.35" textLength="32.35" lengthAdjust="spacingAndGlyphs">207.0</text>
<text id="p289" x="218.79" y="275.40" font-size="14.0" font-weight="bold" fill="#111" stroke="#111" stroke-width="0.35" textLength="30.16" lengthAdjust="spacingAndGlyphs">289.1</text>
<text id="p347" x="268.27" y="198.00" font-size="14.0" font-weight="bold" fill="#111" stroke="#111" stroke-width="0.35" textLength="28.89" lengthAdjust="spacingAndGlyphs">347.1</text>
<text id="p369" x="291.50" y="221.70" font-size="14.0" font-weight="bold" fill="#111" stroke="#111" stroke-width="0.35" textLength="27.80" lengthAdjust="spacingAndGlyphs">369.1</text>
<text id="p391" x="302.47" y="244.50" font-size="14.0" font-weight="bold" fill="#111" stroke="#111" stroke-width="0.35" textLength="28.06" lengthAdjust="spacingAndGlyphs">391.1</text>
<text id="p413" x="311.90" y="267.30" font-size="14.0" font-weight="bold" fill="#111" stroke="#111" stroke-width="0.35" textLength="29.62" lengthAdjust="spacingAndGlyphs">413.0</text>
<text id="p553" x="451.67" y="280.60" font-size="14.0" font-weight="bold" fill="#111" stroke="#111" stroke-width="0.35" textLength="28.71" lengthAdjust="spacingAndGlyphs">553.2</text>
<text id="p575" x="467.86" y="296.80" font-size="14.0" font-weight="bold" fill="#111" stroke="#111" stroke-width="0.35" textLength="28.31" lengthAdjust="spacingAndGlyphs">575.1</text>
<text id="g185" x="168.87" y="35.80" font-size="13.5" font-weight="bold" fill="#2f9a5e" stroke="#2f9a5e" stroke-width="0.1" textLength="43.63" lengthAdjust="spacingAndGlyphs">[A+Na<tspan dx="0.6" dy="-4.59" font-size="6.8">+</tspan><tspan dx="0.4" dy="4.59">]</tspan><tspan dx="0.6" dy="-4.59" font-size="6.8">+</tspan></text>
<text id="g207" x="134.03" y="234.50" font-size="13.5" font-weight="bold" fill="#2f9a5e" stroke="#2f9a5e" stroke-width="0.1" textLength="70.06" lengthAdjust="spacingAndGlyphs">[A-H<tspan dx="0.6" dy="-4.59" font-size="6.8">+</tspan><tspan dx="0.4" dy="4.59">+2Na</tspan><tspan dx="0.6" dy="-4.59" font-size="6.8">+</tspan><tspan dx="0.4" dy="4.59">]</tspan><tspan dx="0.6" dy="-4.59" font-size="6.8">+</tspan></text>
<text id="g347" x="299.25" y="196.50" font-size="13.5" font-weight="bold" fill="#2f9a5e" stroke="#2f9a5e" stroke-width="0.1" textLength="53.28" lengthAdjust="spacingAndGlyphs">[2A+Na<tspan dx="0.6" dy="-4.59" font-size="6.8">+</tspan><tspan dx="0.4" dy="4.59">]</tspan><tspan dx="0.6" dy="-4.59" font-size="6.8">+</tspan></text>
<text id="g369" x="323.67" y="220.20" font-size="13.5" font-weight="bold" fill="#2f9a5e" stroke="#2f9a5e" stroke-width="0.1" textLength="75.44" lengthAdjust="spacingAndGlyphs">[2A-H<tspan dx="0.6" dy="-4.59" font-size="6.8">+</tspan><tspan dx="0.4" dy="4.59">+2Na</tspan><tspan dx="0.6" dy="-4.59" font-size="6.8">+</tspan><tspan dx="0.4" dy="4.59">]</tspan><tspan dx="0.6" dy="-4.59" font-size="6.8">+</tspan></text>
<text id="g391" x="332.03" y="243.00" font-size="13.5" font-weight="bold" fill="#2f9a5e" stroke="#2f9a5e" stroke-width="0.1" textLength="83.47" lengthAdjust="spacingAndGlyphs">[2A-2H<tspan dx="0.6" dy="-4.59" font-size="6.8">+</tspan><tspan dx="0.4" dy="4.59">+3Na</tspan><tspan dx="0.6" dy="-4.59" font-size="6.8">+</tspan><tspan dx="0.4" dy="4.59">]</tspan><tspan dx="0.6" dy="-4.59" font-size="6.8">+</tspan></text>
<text id="g413" x="343.50" y="265.80" font-size="13.5" font-weight="bold" fill="#2f9a5e" stroke="#2f9a5e" stroke-width="0.1" textLength="83.64" lengthAdjust="spacingAndGlyphs">[2A-3H<tspan dx="0.6" dy="-4.59" font-size="6.8">+</tspan><tspan dx="0.4" dy="4.59">+4Na</tspan><tspan dx="0.6" dy="-4.59" font-size="6.8">+</tspan><tspan dx="0.4" dy="4.59">]</tspan><tspan dx="0.6" dy="-4.59" font-size="6.8">+</tspan></text>
<text id="g553" x="480.30" y="279.10" font-size="13.5" font-weight="bold" fill="#2f9a5e" stroke="#2f9a5e" stroke-width="0.1" textLength="84.84" lengthAdjust="spacingAndGlyphs">[3A-2H<tspan dx="0.6" dy="-4.59" font-size="6.8">+</tspan><tspan dx="0.4" dy="4.59">+3Na</tspan><tspan dx="0.6" dy="-4.59" font-size="6.8">+</tspan><tspan dx="0.4" dy="4.59">]</tspan><tspan dx="0.6" dy="-4.59" font-size="6.8">+</tspan></text>
<text id="g575" x="496.50" y="295.30" font-size="13.5" font-weight="bold" fill="#2f9a5e" stroke="#2f9a5e" stroke-width="0.1" textLength="84.80" lengthAdjust="spacingAndGlyphs">[3A-3H<tspan dx="0.6" dy="-4.59" font-size="6.8">+</tspan><tspan dx="0.4" dy="4.59">+4Na</tspan><tspan dx="0.6" dy="-4.59" font-size="6.8">+</tspan><tspan dx="0.4" dy="4.59">]</tspan><tspan dx="0.6" dy="-4.59" font-size="6.8">+</tspan></text>
<text id="lb" x="5.34" y="373.00" font-size="22.5" font-weight="bold" fill="#000" textLength="14.29" lengthAdjust="spacingAndGlyphs">b</text>
<text id="hB" x="56.30" y="392.80" font-size="11.0" font-weight="normal" fill="#4d4d4d" stroke="#4d4d4d" stroke-width="0.60" textLength="170.45" lengthAdjust="spacingAndGlyphs">SOT40_D4_NA_DP-20 4 (0.086)</text>
<text id="tB" x="607.27" y="391.60" font-size="11.0" font-weight="normal" fill="#4d4d4d" stroke="#4d4d4d" stroke-width="0.60" textLength="65.83" lengthAdjust="spacingAndGlyphs">TOF MS ES-</text>
<text id="sB" x="640.91" y="405.00" font-size="11.0" font-weight="normal" fill="#4d4d4d" stroke="#4d4d4d" stroke-width="0.60" textLength="35.00" lengthAdjust="spacingAndGlyphs">5.42e6</text>
<text id="yB" x="60.00" y="416.60" font-size="10.0" font-weight="normal" fill="#4d4d4d" stroke="#4d4d4d" stroke-width="0.45" textLength="16.44" lengthAdjust="spacingAndGlyphs">100</text>
<text id="zB" x="72.56" y="694.20" font-size="10.0" font-weight="normal" fill="#4d4d4d" stroke="#4d4d4d" stroke-width="0.45" textLength="5.03" lengthAdjust="spacingAndGlyphs">0</text>
<text id="mzB" x="652.99" y="694.80" font-size="12.0" font-weight="normal" fill="#4d4d4d" stroke="#4d4d4d" stroke-width="0.45" textLength="19.67" lengthAdjust="spacingAndGlyphs">m/z</text>
<text id="xB150" x="111.99" y="705.80" font-size="11.0" font-weight="normal" fill="#4d4d4d" stroke="#4d4d4d" stroke-width="0.45" textLength="17.41" lengthAdjust="spacingAndGlyphs">150</text>
<text id="xB200" x="153.17" y="705.80" font-size="11.0" font-weight="normal" fill="#4d4d4d" stroke="#4d4d4d" stroke-width="0.45" textLength="17.38" lengthAdjust="spacingAndGlyphs">200</text>
<text id="xB250" x="193.11" y="705.80" font-size="11.0" font-weight="normal" fill="#4d4d4d" stroke="#4d4d4d" stroke-width="0.45" textLength="18.44" lengthAdjust="spacingAndGlyphs">250</text>
<text id="xB300" x="234.18" y="705.80" font-size="11.0" font-weight="normal" fill="#4d4d4d" stroke="#4d4d4d" stroke-width="0.45" textLength="18.32" lengthAdjust="spacingAndGlyphs">300</text>
<text id="xB350" x="275.39" y="705.80" font-size="11.0" font-weight="normal" fill="#4d4d4d" stroke="#4d4d4d" stroke-width="0.45" textLength="17.30" lengthAdjust="spacingAndGlyphs">350</text>
<text id="xB400" x="316.28" y="705.80" font-size="11.0" font-weight="normal" fill="#4d4d4d" stroke="#4d4d4d" stroke-width="0.45" textLength="17.48" lengthAdjust="spacingAndGlyphs">400</text>
<text id="xB450" x="356.43" y="705.80" font-size="11.0" font-weight="normal" fill="#4d4d4d" stroke="#4d4d4d" stroke-width="0.45" textLength="17.37" lengthAdjust="spacingAndGlyphs">450</text>
<text id="xB500" x="396.49" y="705.80" font-size="11.0" font-weight="normal" fill="#4d4d4d" stroke="#4d4d4d" stroke-width="0.45" textLength="18.45" lengthAdjust="spacingAndGlyphs">500</text>
<text id="xB550" x="437.54" y="705.80" font-size="11.0" font-weight="normal" fill="#4d4d4d" stroke="#4d4d4d" stroke-width="0.45" textLength="17.48" lengthAdjust="spacingAndGlyphs">550</text>
<text id="xB600" x="478.62" y="705.80" font-size="11.0" font-weight="normal" fill="#4d4d4d" stroke="#4d4d4d" stroke-width="0.45" textLength="17.37" lengthAdjust="spacingAndGlyphs">600</text>
<text id="xB650" x="518.77" y="705.80" font-size="11.0" font-weight="normal" fill="#4d4d4d" stroke="#4d4d4d" stroke-width="0.45" textLength="18.34" lengthAdjust="spacingAndGlyphs">650</text>
<text id="xB700" x="559.78" y="705.80" font-size="11.0" font-weight="normal" fill="#4d4d4d" stroke="#4d4d4d" stroke-width="0.45" textLength="17.46" lengthAdjust="spacingAndGlyphs">700</text>
<text id="xB750" x="600.81" y="705.80" font-size="11.0" font-weight="normal" fill="#4d4d4d" stroke="#4d4d4d" stroke-width="0.45" textLength="17.43" lengthAdjust="spacingAndGlyphs">750</text>
<text id="p161" x="114.11" y="410.50" font-size="13.8" font-weight="bold" fill="#111" stroke="#111" stroke-width="0.35" textLength="31.00" lengthAdjust="spacingAndGlyphs">161.1</text>
<text id="p219" x="166.86" y="597.00" font-size="13.8" font-weight="bold" fill="#111" stroke="#111" stroke-width="0.35" textLength="30.09" lengthAdjust="spacingAndGlyphs">219.0</text>
<text id="p241" x="183.42" y="623.60" font-size="13.8" font-weight="bold" fill="#111" stroke="#111" stroke-width="0.35" textLength="29.09" lengthAdjust="spacingAndGlyphs">241.0</text>
<text id="p345" x="269.10" y="642.80" font-size="13.8" font-weight="bold" fill="#111" stroke="#111" stroke-width="0.35" textLength="27.66" lengthAdjust="spacingAndGlyphs">345.1</text>
<text id="p367" x="314.38" y="662.00" font-size="13.8" font-weight="bold" fill="#111" stroke="#111" stroke-width="0.35" textLength="28.13" lengthAdjust="spacingAndGlyphs">367.1</text>
<text id="g161" x="149.32" y="409.00" font-size="13.5" font-weight="bold" fill="#2f9a5e" stroke="#2f9a5e" stroke-width="0.1" textLength="34.18" lengthAdjust="spacingAndGlyphs">[A-H<tspan dx="0.6" dy="-4.59" font-size="6.8">+</tspan><tspan dx="0.4" dy="4.59">]</tspan><tspan dx="0.6" dy="-6.08" font-size="6.8">-</tspan></text>
<text id="g219" x="163.08" y="579.50" font-size="13.5" font-weight="bold" fill="#2f9a5e" stroke="#2f9a5e" stroke-width="0.1" textLength="67.85" lengthAdjust="spacingAndGlyphs">[A-H<tspan dx="0.6" dy="-4.59" font-size="6.8">+</tspan><tspan dx="0.4" dy="4.59">+NaCl]</tspan><tspan dx="0.6" dy="-6.08" font-size="6.8">-</tspan></text>
<text id="g241" x="213.10" y="622.10" font-size="13.5" font-weight="bold" fill="#2f9a5e" stroke="#2f9a5e" stroke-width="0.1" textLength="100.22" lengthAdjust="spacingAndGlyphs">[A-2H<tspan dx="0.6" dy="-4.59" font-size="6.8">+</tspan><tspan dx="0.4" dy="4.59">+Na</tspan><tspan dx="0.6" dy="-4.59" font-size="6.8">+</tspan><tspan dx="0.4" dy="4.59">+NaCl]</tspan><tspan dx="0.6" dy="-6.08" font-size="6.8">-</tspan></text>
<text id="g345" x="299.50" y="641.30" font-size="13.5" font-weight="bold" fill="#2f9a5e" stroke="#2f9a5e" stroke-width="0.1" textLength="75.27" lengthAdjust="spacingAndGlyphs">[2A-2H<tspan dx="0.6" dy="-4.59" font-size="6.8">+</tspan><tspan dx="0.4" dy="4.59">+Na</tspan><tspan dx="0.6" dy="-4.59" font-size="6.8">+</tspan><tspan dx="0.4" dy="4.59">]</tspan><tspan dx="0.6" dy="-6.08" font-size="6.8">-</tspan></text>
<text id="g367" x="345.50" y="660.50" font-size="13.5" font-weight="bold" fill="#2f9a5e" stroke="#2f9a5e" stroke-width="0.1" textLength="81.46" lengthAdjust="spacingAndGlyphs">[2A-3H<tspan dx="0.6" dy="-4.59" font-size="6.8">+</tspan><tspan dx="0.4" dy="4.59">+2Na</tspan><tspan dx="0.6" dy="-4.59" font-size="6.8">+</tspan><tspan dx="0.4" dy="4.59">]</tspan><tspan dx="0.6" dy="-6.08" font-size="6.8">-</tspan></text>
</g></svg>
</body></html>
